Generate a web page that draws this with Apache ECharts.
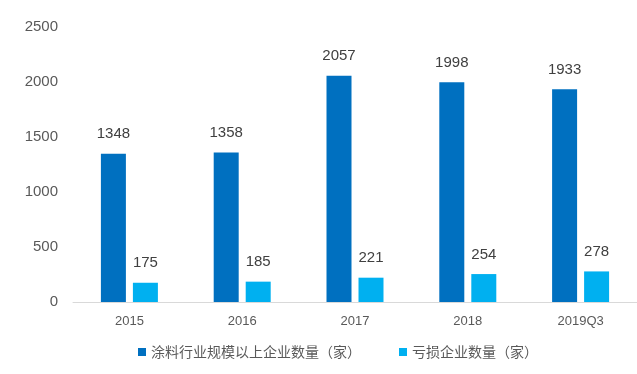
<!DOCTYPE html>
<html><head><meta charset="utf-8">
<script src="https://cdn.jsdelivr.net/npm/echarts@6/dist/echarts.min.js"></script>
<style>html,body{margin:0;padding:0;background:#fff}#c{width:637px;height:374px}</style>
</head><body><div id="c"></div>
<script>
const categories = ['2015','2016','2017','2018','2019Q3'];
const scaleCount = [1348,1358,2057,1998,1933];
const lossCount = [175,185,221,254,278];
const seriesNames = ['涂料行业规模以上企业数量（家）','亏损企业数量（家）'];
const chart = echarts.init(document.getElementById('c'));
const font = 'Arial, "Liberation Sans", "Noto Sans CJK SC", sans-serif';
chart.setOption({
  animation:false,
  textStyle:{fontFamily:font},
  grid:{left:73,right:0,top:27,bottom:72,containLabel:false},
  legend:{bottom:10,left:133,itemWidth:8,itemHeight:8,itemGap:38,icon:'rect',
    textStyle:{fontSize:14,color:'#595959',fontFamily:'"Noto Sans CJK SC", sans-serif'},
    data:seriesNames},
  xAxis:{type:'category',data:categories,
    axisLine:{lineStyle:{color:'#d9d9d9'}},axisTick:{show:false},
    axisLabel:{fontSize:13,color:'#595959',margin:13}},
  yAxis:{type:'value',min:0,max:2500,interval:500,
    splitLine:{show:false},axisLine:{show:false},axisTick:{show:false},
    axisLabel:{fontSize:15,color:'#595959',margin:15,formatter:v=>String(v)}},
  series:[
    {name:seriesNames[0],type:'bar',data:scaleCount,barWidth:25,barGap:'28%',
     itemStyle:{color:'#0070C0'},
     label:{show:true,position:'top',distance:12,fontSize:15,color:'#404040'}},
    {name:seriesNames[1],type:'bar',data:lossCount,barWidth:25,
     itemStyle:{color:'#00B0F0'},
     label:{show:true,position:'top',distance:12,fontSize:15,color:'#404040'}}
  ]
});
</script></body></html>
